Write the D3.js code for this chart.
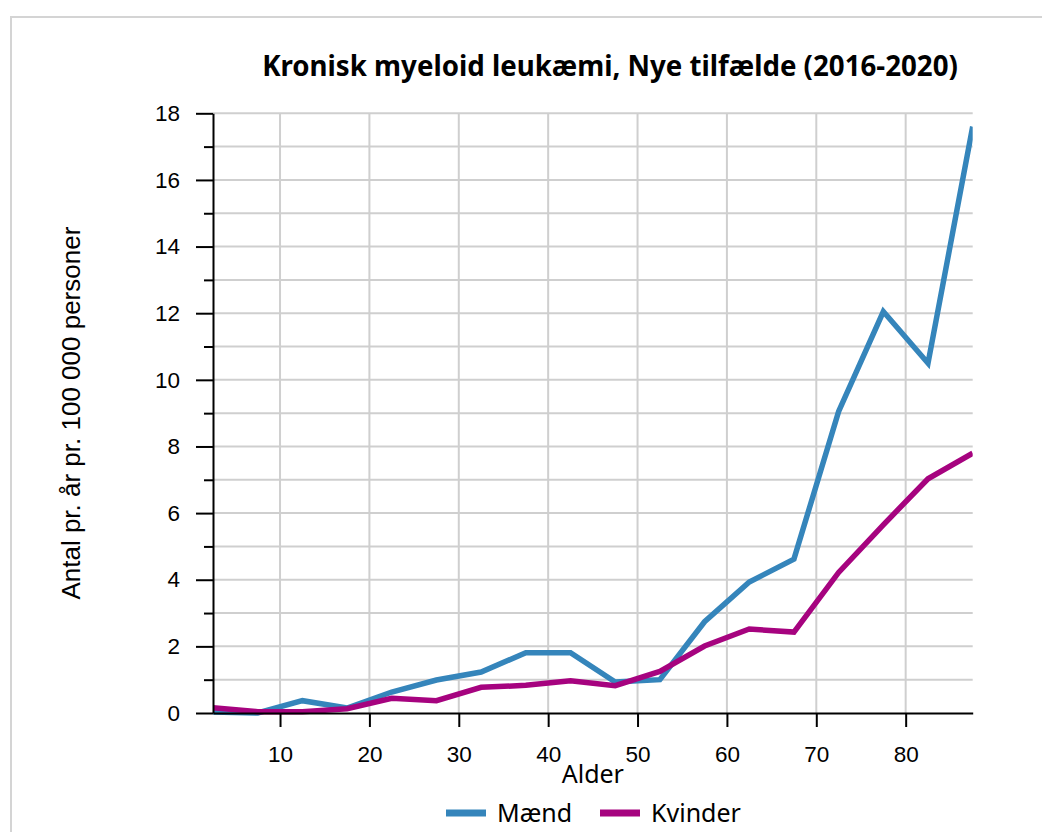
<!DOCTYPE html>
<html>
<head>
<meta charset="utf-8">
<script src="https://cdn.jsdelivr.net/npm/d3@7"></script>
<style>
  html, body { margin: 0; padding: 0; background: #fff; }
  svg { display: block; }
</style>
</head>
<body>
<svg id="chart" width="1042" height="832"></svg>
<script>
const title = "Kronisk myeloid leukæmi, Nye tilfælde (2016-2020)";
const xLabel = "Alder";
const yLabel = "Antal pr. år pr. 100 000 personer";
const ages = [2.5, 7.5, 12.5, 17.5, 22.5, 27.5, 32.5, 37.5, 42.5, 47.5, 52.5, 57.5, 62.5, 67.5, 72.5, 77.5, 82.5, 87.5];
const maend =   [0.03, 0.0, 0.37, 0.15, 0.63, 0.99, 1.23, 1.81, 1.81, 0.93, 1.0, 2.74, 3.93, 4.62, 9.05, 12.05, 10.5, 17.6];
const kvinder = [0.16, 0.04, 0.04, 0.13, 0.44, 0.37, 0.77, 0.83, 0.97, 0.82, 1.25, 2.01, 2.52, 2.43, 4.22, 5.65, 7.03, 7.8];
const seriesNames = ["Mænd", "Kvinder"];
const seriesColors = ["#3585bb", "#a6037f"];
const xTicks = [10, 20, 30, 40, 50, 60, 70, 80];
const yMajorTicks = [0, 2, 4, 6, 8, 10, 12, 14, 16, 18];
const yAllTicks = d3.range(0, 19, 1);

const svg = d3.select("#chart");
const pLeft = 213, pRight = 972.7, pTop = 113.3, pBottom = 713;

// frame
svg.append("rect").attr("x", 11).attr("y", 17).attr("width", 1100).attr("height", 900)
  .attr("fill", "none").attr("stroke", "#d4d4d4").attr("stroke-width", 2);

const x = d3.scaleLinear().domain([2.5, 87.5]).range([pLeft, pRight]);
const y = d3.scaleLinear().domain([0, 18]).range([pBottom, pTop]);

// grid
const grid = svg.append("g");
grid.selectAll("line.h").data(yAllTicks.filter(d => d > 0)).join("line")
  .attr("x1", pLeft).attr("x2", pRight)
  .attr("y1", d => y(d)).attr("y2", d => y(d))
  .attr("stroke", "#cfcfcf").attr("stroke-width", 2);
grid.selectAll("line.v").data(xTicks).join("line")
  .attr("x1", d => x(d)).attr("x2", d => x(d))
  .attr("y1", pTop).attr("y2", pBottom)
  .attr("stroke", "#cfcfcf").attr("stroke-width", 2);

// lines
const line = d3.line().x((d, i) => x(ages[i])).y(d => y(d));
const series = [maend, kvinder];
svg.append("clipPath").attr("id", "clip").append("rect")
  .attr("x", pLeft).attr("y", 0).attr("width", pRight - pLeft).attr("height", pBottom + 10);
series.forEach((s, i) => {
  svg.append("path").datum(s).attr("d", line)
    .attr("fill", "none").attr("stroke", seriesColors[i]).attr("stroke-width", 5.5)
    .attr("stroke-linejoin", "miter").attr("clip-path", "url(#clip)");
});

// x axis
const xAxis = svg.append("g").attr("transform", `translate(0,${pBottom})`)
  .call(d3.axisBottom(x).tickValues(xTicks).tickSize(14).tickPadding(19).tickSizeOuter(0));
xAxis.select(".domain").attr("stroke", "#000").attr("stroke-width", 2);
xAxis.selectAll(".tick line").attr("stroke", "#000").attr("stroke-width", 2);
xAxis.selectAll("text").attr("font-family", "Liberation Sans, Arial, sans-serif").attr("font-size", 22.5).attr("fill", "#000");

// y axis minor ticks
svg.append("g").attr("transform", `translate(${pLeft},0)`)
  .call(d3.axisLeft(y).tickValues(yAllTicks.filter(d => d % 2 === 1)).tickSize(9).tickFormat(""))
  .call(g => g.select(".domain").remove())
  .call(g => g.selectAll(".tick line").attr("stroke", "#000").attr("stroke-width", 2));
// y axis major
const yAxis = svg.append("g").attr("transform", `translate(${pLeft},0)`)
  .call(d3.axisLeft(y).tickValues(yMajorTicks).tickSize(17).tickPadding(16).tickSizeOuter(0));
yAxis.select(".domain").attr("stroke", "#000").attr("stroke-width", 2);
yAxis.selectAll(".tick line").attr("stroke", "#000").attr("stroke-width", 2);
yAxis.selectAll("text").attr("font-family", "Liberation Sans, Arial, sans-serif").attr("font-size", 22.5).attr("fill", "#000");

// title (fit to the measured width of the reference title)
const titleEl = svg.append("text").attr("x", 610).attr("y", 76).attr("text-anchor", "middle")
  .attr("font-family", "'Noto Sans', sans-serif").attr("font-weight", 700)
  .attr("font-size", 26).attr("fill", "#000").text(title);
const tw = titleEl.node().getComputedTextLength();
titleEl.attr("font-size", 26 * 696 / tw);

// x label
svg.append("text").attr("x", (pLeft + pRight) / 2).attr("y", 783).attr("text-anchor", "middle")
  .attr("font-family", "'Noto Sans', sans-serif").attr("font-size", 25).attr("fill", "#000").text(xLabel);

// y label
svg.append("text").attr("transform", `translate(80,${(pTop + pBottom) / 2}) rotate(-90)`)
  .attr("text-anchor", "middle")
  .attr("font-family", "Liberation Sans, Arial, sans-serif").attr("font-size", 26).attr("fill", "#000").text(yLabel);

// legend
const legend = svg.append("g");
const legendX = [446, 600];
seriesNames.forEach((n, i) => {
  legend.append("line").attr("x1", legendX[i]).attr("x2", legendX[i] + 40)
    .attr("y1", 813).attr("y2", 813).attr("stroke", seriesColors[i]).attr("stroke-width", 7);
  legend.append("text").attr("x", legendX[i] + 51).attr("y", 822)
    .attr("font-family", "'Noto Sans', sans-serif").attr("font-size", 25).attr("fill", "#000").text(n);
});
</script>
</body>
</html>
